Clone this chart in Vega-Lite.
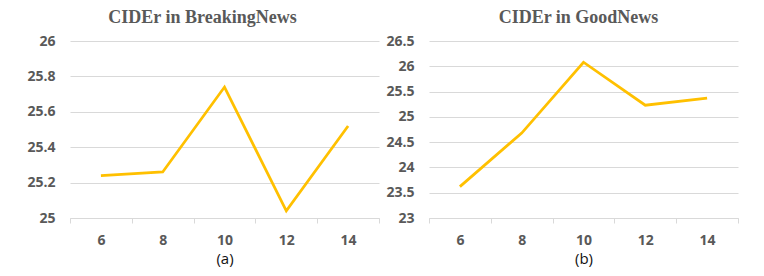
{
  "$schema": "https://vega.github.io/schema/vega-lite/v6.json",
  "padding": {"left": 26, "top": 9, "right": 10, "bottom": 5},
  "background": "white",
  "spacing": 5,
  "datasets": {
    "breaking": [
      {"n": 6, "cider": 25.24},
      {"n": 8, "cider": 25.26},
      {"n": 10, "cider": 25.74},
      {"n": 12, "cider": 25.04},
      {"n": 14, "cider": 25.52}
    ],
    "good": [
      {"n": 6, "cider": 23.62},
      {"n": 8, "cider": 24.68},
      {"n": 10, "cider": 26.08},
      {"n": 12, "cider": 25.23},
      {"n": 14, "cider": 25.37}
    ]
  },
  "config": {
    "view": {"stroke": null},
    "title": {"font": "Liberation Serif", "fontSize": 18, "fontWeight": "bold", "color": "#595959", "baseline": "alphabetic", "offset": 7, "anchor": "middle"},
    "axis": {"labelFont": "Open Sans", "labelFontSize": 14, "labelFontWeight": "bold", "labelColor": "#595959", "gridColor": "#d9d9d9", "gridWidth": 1, "domainColor": "#d9d9d9", "tickColor": "#d9d9d9"}
  },
  "hconcat": [
    {
      "width": 309,
      "height": 177,
      "title": {"text": "CIDEr in BreakingNews", "dx": -22},
      "data": {"name": "breaking"},
      "mark": {"type": "line", "color": "#FFC000", "strokeWidth": 2.75},
      "encoding": {
        "x": {"field": "n", "type": "quantitative", "scale": {"domain": [5, 15], "nice": false, "zero": false},
          "axis": {"values": [5, 6, 7, 8, 9, 10, 11, 12, 13, 14, 15], "grid": false, "tickSize": 5, "tickOpacity": {"condition": {"test": "datum.value % 2 == 1", "value": 1}, "value": 0}, "labelExpr": "datum.value % 2 == 0 ? datum.label : ''", "labelPadding": 10, "title": "(a)", "titleFont": "Open Sans", "titleFontSize": 15, "titleFontWeight": "normal", "titleColor": "#111111", "titlePadding": 4}},
        "y": {"field": "cider", "type": "quantitative", "scale": {"domain": [25, 26], "nice": false, "zero": false},
          "axis": {"values": [25, 25.2, 25.4, 25.6, 25.8, 26], "format": ".1~f", "domain": false, "ticks": false, "tickSize": 0, "labelPadding": 15, "title": null, "minExtent": 42, "maxExtent": 42}}
      }
    },
    {
      "width": 309,
      "height": 177,
      "title": {"text": "CIDEr in GoodNews", "dx": -5},
      "data": {"name": "good"},
      "mark": {"type": "line", "color": "#FFC000", "strokeWidth": 2.75},
      "encoding": {
        "x": {"field": "n", "type": "quantitative", "scale": {"domain": [5, 15], "nice": false, "zero": false},
          "axis": {"values": [5, 6, 7, 8, 9, 10, 11, 12, 13, 14, 15], "grid": false, "tickSize": 5, "tickOpacity": {"condition": {"test": "datum.value % 2 == 1", "value": 1}, "value": 0}, "labelExpr": "datum.value % 2 == 0 ? datum.label : ''", "labelPadding": 10, "title": "(b)", "titleFont": "Open Sans", "titleFontSize": 15, "titleFontWeight": "normal", "titleColor": "#111111", "titlePadding": 4}},
        "y": {"field": "cider", "type": "quantitative", "scale": {"domain": [23, 26.5], "nice": false, "zero": false},
          "axis": {"values": [23, 23.5, 24, 24.5, 25, 25.5, 26, 26.5], "format": ".1~f", "domain": false, "ticks": false, "tickSize": 0, "labelPadding": 15, "title": null, "minExtent": 42, "maxExtent": 42}}
      }
    }
  ]
}
